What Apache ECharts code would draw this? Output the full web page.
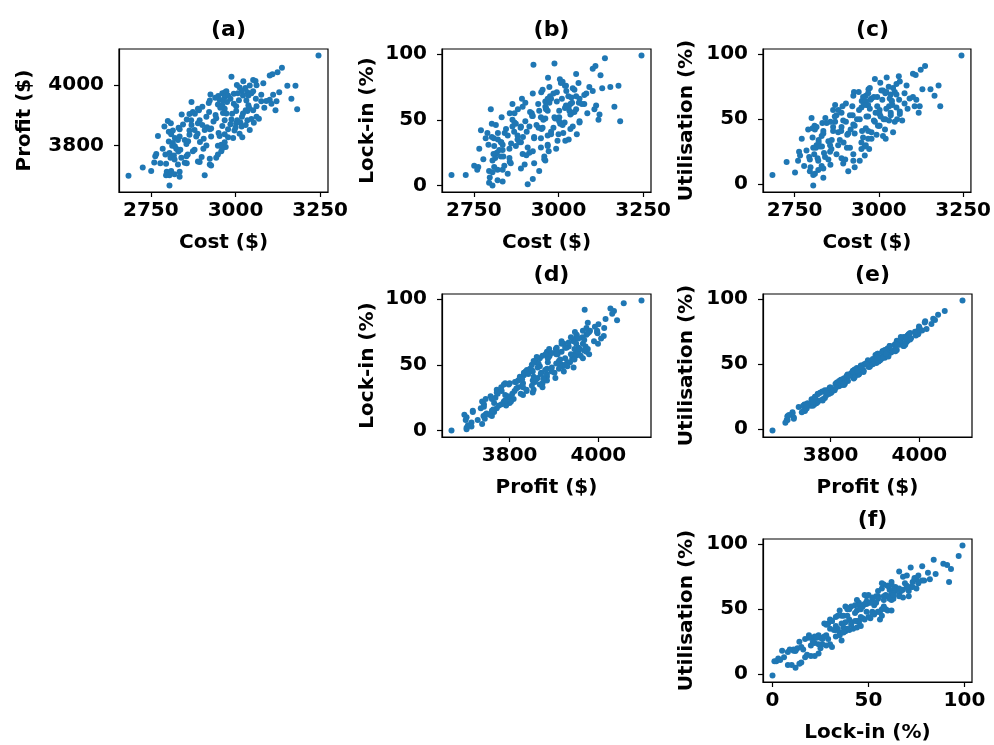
<!DOCTYPE html>
<html>
<head>
<meta charset="utf-8">
<script src="https://cdn.jsdelivr.net/npm/echarts@6/dist/echarts.min.js"></script>
<style>
  html, body { margin: 0; padding: 0; background: #fff; }
  #chart { width: 994px; height: 745px; }
</style>
</head>
<body>
<div id="chart"></div>
<script>
// one row per observation, same index in every array
var cost = [
  3245,3137,3124,3109,3101,2988,3023,3052,3059,3082,
  3004,3042,3062,3153,3177,3012,3029,3019,2969,2961,
  2973,2995,3007,3035,3047,3052,3129,3111,2926,2949,
  2968,2978,3022,3038,3076,3060,3101,2870,2924,2921,
  2953,2963,2975,2948,2961,2995,3032,3076,3091,3106,
  3165,3121,2902,2889,2968,3002,3038,3062,3030,2841,
  2864,2874,2892,2922,2941,2963,2973,3002,3022,3035,
  3052,3118,3182,2856,2869,2894,2914,2943,2968,2988,
  3005,3019,3035,3047,3062,3069,2800,2809,2832,2790,
  2870,2889,2902,2916,2928,2961,2985,3002,3014,3018,
  3030,3042,2803,2835,2864,2879,2888,2909,2924,2978,
  2997,3012,3054,2771,2810,2821,2835,2850,2864,2884,
  2906,2914,2928,2953,2968,2978,2993,3020,2803,2815,
  2830,2813,2821,2855,2948,2958,2968,2971,2961,2766,
  2763,2793,2805,2818,2831,2837,2859,2874,2879,2900,
  2924,2943,2948,2958,2808,2820,2855,2778,2726,2751,
  2795,2830,2850,2856,2889,2894,2924,2928,2797,2810,
  2835,2805,2795,2684,2805,2909,2835,2820,2940,2955,
  2985,2935,2880,2845,2990,3010,2860,2825,2785,2840,
  2905,2950,3040,3085,2895,2760,2815,3000
];
var profit = [
  4097,4057,4042,4035,4031,4027,4012,4016,4013,4006,
  4000,3998,3999,3997,3997,3992,3990,3981,3976,3973,
  3979,3971,3973,3976,3973,3979,3976,3968,3969,3964,
  3960,3965,3965,3965,3968,3955,3951,3944,3949,3941,
  3951,3949,3944,3936,3933,3938,3949,3946,3947,3938,
  3955,3946,3928,3922,3922,3930,3933,3930,3917,3903,
  3904,3911,3917,3911,3901,3908,3906,3914,3906,3914,
  3917,3917,3920,3886,3884,3884,3895,3890,3884,3886,
  3884,3895,3884,3888,3895,3889,3881,3874,3859,3863,
  3868,3874,3868,3861,3857,3865,3871,3874,3877,3863,
  3868,3852,3846,3854,3850,3852,3839,3852,3854,3854,
  3850,3839,3876,3832,3838,3825,3830,3819,3836,3830,
  3823,3801,3830,3832,3838,3828,3825,3828,3814,3809,
  3819,3800,3798,3806,3800,3803,3811,3796,3792,3773,
  3765,3771,3776,3768,3781,3787,3771,3782,3787,3763,
  3757,3760,3771,3782,3760,3755,3765,3742,3728,3717,
  3741,3738,3744,3742,3748,3746,3738,3735,3714,3717,
  3714,3703,3703,3701,3669,3703,3698,3706,3958,3925,
  3955,3880,3905,3870,3905,3950,3815,3790,3790,3760,
  3790,3842,3925,3925,3812,3745,3850,3860
];
var lockIn = [
  99,97,84,91,89,93,72,85,78,70,
  81,74,66,75,76,79,68,76,82,60,
  75,64,78,62,73,58,74,61,92,71,
  57,66,76,55,69,63,72,48,70,55,
  73,59,68,52,64,71,57,62,75,58,
  60,54,63,45,66,52,67,49,60,40,
  62,47,66,53,44,58,63,49,61,54,
  68,50,49,55,41,60,45,57,38,52,
  47,59,43,56,48,62,58,36,52,40,
  55,33,49,56,37,51,44,57,40,48,
  35,45,47,31,50,38,44,29,53,41,
  34,46,39,42,30,40,27,38,45,33,
  41,25,36,44,31,39,28,34,37,24,
  33,21,35,28,36,22,30,26,19,28,
  14,31,19,25,33,22,17,30,35,16,
  26,11,29,20,24,12,21,20,8,15,
  11,22,9,18,13,24,5,17,6,14,
  3,10,2,8,0,1,12,4,62,50,
  70,46,58,43,51,66,32,27,36,15,
  23,43,63,55,37,12,46,39
];
var utilisation = [
  99,91,88,84,85,81,82,77,83,76,
  78,74,79,73,76,72,75,70,73,68,
  74,67,72,69,71,69,73,65,71,64,
  70,66,71,64,70,65,67,61,68,60,
  67,61,65,59,64,60,66,62,66,60,
  68,60,62,55,61,57,64,56,60,51,
  57,53,60,53,57,52,58,54,58,55,
  59,55,60,48,52,49,53,50,52,48,
  52,50,53,48,54,49,51,45,47,42,
  48,44,48,42,45,43,49,45,50,42,
  49,40,43,41,44,40,41,39,46,40,
  45,37,50,35,42,34,39,33,41,34,
  38,28,39,36,41,35,38,35,36,30,
  37,28,32,30,32,29,35,27,30,22,
  25,21,28,20,29,24,27,23,30,19,
  23,18,27,22,23,18,25,14,17,9,
  19,14,19,15,20,16,18,13,13,8,
  12,7,10,7,-1,10,5,11,71,61,
  67,50,57,47,55,65,34,29,26,21,
  28,41,61,58,32,18,44,45
];

var costTicks = [2750, 3000, 3250];
var profitTicks = [3800, 4000];
var pctTicks = [0, 50, 100];

var vars = {
  cost: { data: cost, name: 'Cost ($)', ticks: costTicks },
  profit: { data: profit, name: 'Profit ($)', ticks: profitTicks },
  lockIn: { data: lockIn, name: 'Lock-in (%)', ticks: pctTicks },
  utilisation: { data: utilisation, name: 'Utilisation (%)', ticks: pctTicks }
};

// x var, y var, title, grid box
var panels = [
  { x: 'cost', y: 'profit', title: '(a)', left: 119, top: 49, yGap: 84 },
  { x: 'cost', y: 'lockIn', title: '(b)', left: 442, top: 49, yGap: 64 },
  { x: 'cost', y: 'utilisation', title: '(c)', left: 763, top: 49, yGap: 66 },
  { x: 'profit', y: 'lockIn', title: '(d)', left: 442, top: 294, yGap: 64 },
  { x: 'profit', y: 'utilisation', title: '(e)', left: 763, top: 294, yGap: 66 },
  { x: 'lockIn', y: 'utilisation', title: '(f)', left: 763, top: 539, yGap: 66 }
];
var W = 209, H = 143;
var font = 'DejaVu Sans';

function padMin(v) { return v.min - (v.max - v.min) * 0.05; }
function padMax(v) { return v.max + (v.max - v.min) * 0.05; }

function makeAxis(i, v, isX, gap) {
  return {
    type: 'value',
    gridIndex: i,
    min: padMin,
    max: padMax,
    name: v.name,
    nameLocation: 'middle',
    nameGap: gap,
    nameRotate: isX ? 0 : 90,
    nameTextStyle: { color: '#000', fontFamily: font, fontWeight: 'bold', fontSize: 20 },
    axisLine: { show: true, onZero: false, lineStyle: { color: '#000', width: 1.2 } },
    axisTick: { show: true, length: 5, customValues: v.ticks, lineStyle: { color: '#000', width: 1.2 } },
    axisLabel: { customValues: v.ticks, color: '#000', fontFamily: font, fontWeight: 'bold', fontSize: 20,
      margin: isX ? 9 : 15, formatter: function (val) { return String(val); } },
    splitLine: { show: false }
  };
}

var grids = [], xAxes = [], yAxes = [], titles = [], series = [];
panels.forEach(function (p, i) {
  var vx = vars[p.x], vy = vars[p.y];
  grids.push({ left: p.left, top: p.top, width: W, height: H, show: true,
    borderColor: '#000', borderWidth: 1.2, backgroundColor: '#fff' });
  xAxes.push(makeAxis(i, vx, true, 41));
  yAxes.push(makeAxis(i, vy, false, p.yGap));
  titles.push({ text: p.title, left: p.left + W / 2, top: p.top - 35, textAlign: 'center',
    textStyle: { color: '#000', fontFamily: font, fontWeight: 'bold', fontSize: 22 } });
  var pts = vx.data.map(function (xv, k) { return [xv, vy.data[k]]; });
  series.push({ type: 'scatter', xAxisIndex: i, yAxisIndex: i, data: pts,
    symbolSize: 6, itemStyle: { color: '#1f77b4', opacity: 1 }, silent: true });
});

var myChart = echarts.init(document.getElementById('chart'), null, { renderer: 'canvas' });
myChart.setOption({
  animation: false,
  backgroundColor: '#fff',
  title: titles,
  grid: grids,
  xAxis: xAxes,
  yAxis: yAxes,
  series: series
});
</script>
</body>
</html>
